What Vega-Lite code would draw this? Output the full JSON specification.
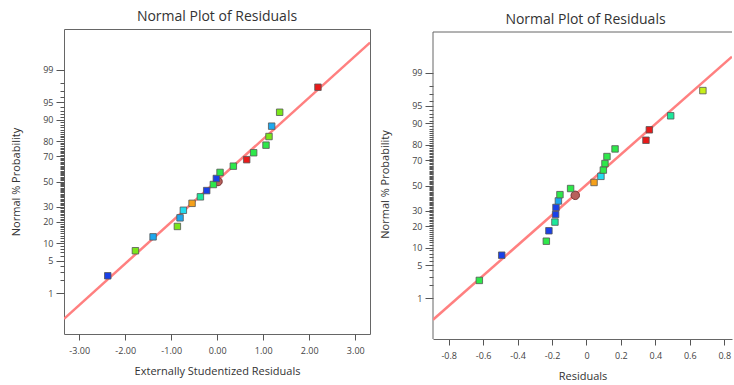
{
  "$schema": "https://vega.github.io/schema/vega-lite/v6.json",
  "padding": {"left": 10, "top": 9, "right": 0, "bottom": 0},
  "spacing": 8,
  "config": {
    "font": "Open Sans",
    "view": {"stroke": "#666", "strokeWidth": 1},
    "title": {"fontSize": 14, "fontWeight": "normal", "color": "#333", "font": "Open Sans"},
    "axis": {
      "grid": false,
      "domain": false,
      "labelFont": "Open Sans",
      "titleFont": "Open Sans",
      "labelFontSize": 9,
      "titleFontSize": 11,
      "titleFontWeight": "normal",
      "labelColor": "#444",
      "titleColor": "#333",
      "tickColor": "#555",
      "domainColor": "#666",
      "labelOverlap": false,
      "labelBound": false,
      "labelFlush": false
    }
  },
  "datasets": {
    "left": [
      {"x": -2.379, "z": -1.96, "level": 0},
      {"x": -1.778, "z": -1.4395, "level": 5},
      {"x": -1.394, "z": -1.1503, "level": 1},
      {"x": -0.866, "z": -0.9346, "level": 5},
      {"x": -0.808, "z": -0.7554, "level": 1},
      {"x": -0.736, "z": -0.5978, "level": 2},
      {"x": -0.547, "z": -0.4538, "level": 7},
      {"x": -0.366, "z": -0.3186, "level": 3},
      {"x": -0.229, "z": -0.1891, "level": 0},
      {"x": -0.084, "z": -0.0627, "level": 4},
      {"x": -0.019, "z": 0.0627, "level": 0},
      {"x": 0.061, "z": 0.1891, "level": 4},
      {"x": 0.35, "z": 0.3186, "level": 4},
      {"x": 0.64, "z": 0.4538, "level": 8},
      {"x": 0.792, "z": 0.5978, "level": 4},
      {"x": 1.06, "z": 0.7554, "level": 4},
      {"x": 1.125, "z": 0.9346, "level": 5},
      {"x": 1.183, "z": 1.1503, "level": 1},
      {"x": 1.357, "z": 1.4395, "level": 5},
      {"x": 2.189, "z": 1.96, "level": 8}
    ],
    "right": [
      {"x": -0.622, "z": -1.96, "level": 4},
      {"x": -0.492, "z": -1.4395, "level": 0},
      {"x": -0.233, "z": -1.1503, "level": 4},
      {"x": -0.218, "z": -0.9346, "level": 0},
      {"x": -0.183, "z": -0.7554, "level": 3},
      {"x": -0.179, "z": -0.5978, "level": 0},
      {"x": -0.177, "z": -0.4538, "level": 0},
      {"x": -0.163, "z": -0.3186, "level": 1},
      {"x": -0.154, "z": -0.1891, "level": 4},
      {"x": -0.092, "z": -0.0627, "level": 4},
      {"x": 0.044, "z": 0.0627, "level": 7},
      {"x": 0.084, "z": 0.1891, "level": 2},
      {"x": 0.098, "z": 0.3186, "level": 4},
      {"x": 0.1075, "z": 0.4538, "level": 4},
      {"x": 0.119, "z": 0.5978, "level": 4},
      {"x": 0.166, "z": 0.7554, "level": 4},
      {"x": 0.3455, "z": 0.9346, "level": 8},
      {"x": 0.365, "z": 1.1503, "level": 8},
      {"x": 0.489, "z": 1.4395, "level": 3},
      {"x": 0.676, "z": 1.96, "level": 6}
    ],
    "leftLine": [{"x": -3.33, "z": -2.856}, {"x": 3.32, "z": 2.888}],
    "rightLine": [{"x": -0.891, "z": -2.772}, {"x": 0.845, "z": 2.66}],
    "leftHi": [{"x": 0.017, "z": 0.0}],
    "rightHi": [{"x": -0.065, "z": -0.203}],
    "rightFrame": [{"x0": -0.891, "x1": 0.845, "zb": -3.17, "zt": 3.17}]
  },
  "hconcat": [
    {
      "width": 306,
      "height": 305,
      "title": {"text": "Normal Plot of Residuals", "offset": 5},
      "encoding": {
        "x": {
          "field": "x", "type": "quantitative",
          "scale": {"domain": [-3.33, 3.32], "nice": false, "zero": false},
          "axis": {
            "title": "Externally Studentized Residuals",
            "values": [-3, -2, -1, 0, 1, 2, 3],
            "labelExpr": "replace(format(datum.value, '.2f'), '−', '-')",
            "tickSize": 6, "labelPadding": 6, "titlePadding": 10
          }
        },
        "y": {
          "field": "z", "type": "quantitative",
          "scale": {"domain": [-3.17, 3.17], "nice": false, "zero": false},
          "axis": {
            "title": "Normal % Probability",
            "values": [-2.3263,-2.0537,-1.8808,-1.7507,-1.6449,-1.5548,-1.4758,-1.4051,-1.3408,-1.2816,-1.2265,-1.175,-1.1264,-1.0803,-1.0364,-0.9945,-0.9542,-0.9154,-0.8779,-0.8416,-0.8064,-0.7722,-0.7388,-0.7063,-0.6745,-0.6433,-0.6128,-0.5828,-0.5534,-0.5244,-0.4959,-0.4677,-0.4399,-0.4125,-0.3853,-0.3585,-0.3319,-0.3055,-0.2793,-0.2533,-0.2275,-0.2019,-0.1764,-0.151,-0.1257,-0.1004,-0.0753,-0.0502,-0.0251,0,0.0251,0.0502,0.0753,0.1004,0.1257,0.151,0.1764,0.2019,0.2275,0.2533,0.2793,0.3055,0.3319,0.3585,0.3853,0.4125,0.4399,0.4677,0.4959,0.5244,0.5534,0.5828,0.6128,0.6433,0.6745,0.7063,0.7388,0.7722,0.8064,0.8416,0.8779,0.9154,0.9542,0.9945,1.0364,1.0803,1.1264,1.175,1.2265,1.2816,1.3408,1.4051,1.4758,1.5548,1.6449,1.7507,1.8808,2.0537,2.3263],
            "labelExpr": "indexof([1,5,10,20,30,50,70,80,90,95,99], round(cumulativeNormal(datum.value)*100)) >= 0 ? '' + round(cumulativeNormal(datum.value)*100) : ''",
            "tickSize": {"condition": {"test": "indexof([1,5,10,20,30,50,70,80,90,95,99], round(cumulativeNormal(datum.value)*100)) >= 0", "value": 8}, "value": 4},
            "labelPadding": 3, "titlePadding": 21
          }
        }
      },
      "layer": [
        {
          "data": {"name": "leftLine"},
          "mark": {"type": "line", "color": "#ff8080", "strokeWidth": 2.5, "clip": true},
          "encoding": {}
        },
        {
          "data": {"name": "leftHi"},
          "mark": {"type": "point", "shape": "circle", "filled": true, "size": 72, "fill": "#b8605c", "stroke": "#7a3535", "strokeWidth": 1, "opacity": 1},
          "encoding": {}
        },
        {
          "data": {"name": "left"},
          "mark": {"type": "point", "shape": "square", "filled": true, "size": 42, "stroke": "#555", "strokeWidth": 0.8, "opacity": 1},
          "encoding": {
            "fill": {"field": "level", "type": "ordinal", "legend": null,
              "scale": {"domain": [0,1,2,3,4,5,6,7,8], "range": ["#1a40e8","#1ea8ee","#22dcee","#1de89a","#2ee84a","#7ae61a","#c6ef1a","#f5a01a","#e81a1a"]}}
          }
        }
      ]
    },
    {
      "width": 299,
      "height": 310,
      "view": {"stroke": null},
      "title": {"text": "Normal Plot of Residuals", "offset": 5, "dy": 3, "dx": 3},
      "encoding": {
        "x": {
          "field": "x", "type": "quantitative",
          "scale": {"domain": [-0.891, 0.845], "nice": false, "zero": false},
          "axis": {
            "title": "Residuals",
            "values": [-0.8, -0.6, -0.4, -0.2, 0, 0.2, 0.4, 0.6, 0.8],
            "labelExpr": "replace(format(datum.value, '.1~f'), '−', '-')",
            "domain": true,
            "tickSize": 6, "labelPadding": 6, "titlePadding": 10
          }
        },
        "y": {
          "field": "z", "type": "quantitative",
          "scale": {"domain": [-3.17, 3.232], "nice": false, "zero": false},
          "axis": {
            "title": "Normal % Probability",
            "values": [-2.3263,-2.0537,-1.8808,-1.7507,-1.6449,-1.5548,-1.4758,-1.4051,-1.3408,-1.2816,-1.2265,-1.175,-1.1264,-1.0803,-1.0364,-0.9945,-0.9542,-0.9154,-0.8779,-0.8416,-0.8064,-0.7722,-0.7388,-0.7063,-0.6745,-0.6433,-0.6128,-0.5828,-0.5534,-0.5244,-0.4959,-0.4677,-0.4399,-0.4125,-0.3853,-0.3585,-0.3319,-0.3055,-0.2793,-0.2533,-0.2275,-0.2019,-0.1764,-0.151,-0.1257,-0.1004,-0.0753,-0.0502,-0.0251,0,0.0251,0.0502,0.0753,0.1004,0.1257,0.151,0.1764,0.2019,0.2275,0.2533,0.2793,0.3055,0.3319,0.3585,0.3853,0.4125,0.4399,0.4677,0.4959,0.5244,0.5534,0.5828,0.6128,0.6433,0.6745,0.7063,0.7388,0.7722,0.8064,0.8416,0.8779,0.9154,0.9542,0.9945,1.0364,1.0803,1.1264,1.175,1.2265,1.2816,1.3408,1.4051,1.4758,1.5548,1.6449,1.7507,1.8808,2.0537,2.3263],
            "labelExpr": "indexof([1,5,10,20,30,50,70,80,90,95,99], round(cumulativeNormal(datum.value)*100)) >= 0 ? '' + round(cumulativeNormal(datum.value)*100) : ''",
            "tickSize": {"condition": {"test": "indexof([1,5,10,20,30,50,70,80,90,95,99], round(cumulativeNormal(datum.value)*100)) >= 0", "value": 8}, "value": 4},
            "labelPadding": 3, "titlePadding": 21
          }
        }
      },
      "layer": [
        {
          "data": {"name": "rightFrame"},
          "mark": {"type": "rule", "color": "#666", "strokeWidth": 1},
          "encoding": {"x": {"field": "x0", "type": "quantitative"}, "x2": {"field": "x1"}, "y": {"field": "zt", "type": "quantitative"}}
        },
        {
          "data": {"name": "rightFrame"},
          "mark": {"type": "rule", "color": "#666", "strokeWidth": 1},
          "encoding": {"x": {"field": "x0", "type": "quantitative"}, "y": {"field": "zb", "type": "quantitative"}, "y2": {"field": "zt"}}
        },
        {
          "data": {"name": "rightLine"},
          "mark": {"type": "line", "color": "#ff8080", "strokeWidth": 2.5, "clip": true},
          "encoding": {}
        },
        {
          "data": {"name": "rightHi"},
          "mark": {"type": "point", "shape": "circle", "filled": true, "size": 72, "fill": "#b8605c", "stroke": "#7a3535", "strokeWidth": 1, "opacity": 1},
          "encoding": {}
        },
        {
          "data": {"name": "right"},
          "mark": {"type": "point", "shape": "square", "filled": true, "size": 42, "stroke": "#555", "strokeWidth": 0.8, "opacity": 1},
          "encoding": {
            "fill": {"field": "level", "type": "ordinal", "legend": null,
              "scale": {"domain": [0,1,2,3,4,5,6,7,8], "range": ["#1a40e8","#1ea8ee","#22dcee","#1de89a","#2ee84a","#7ae61a","#c6ef1a","#f5a01a","#e81a1a"]}}
          }
        }
      ]
    }
  ],
  "resolve": {"scale": {"fill": "shared"}}
}
